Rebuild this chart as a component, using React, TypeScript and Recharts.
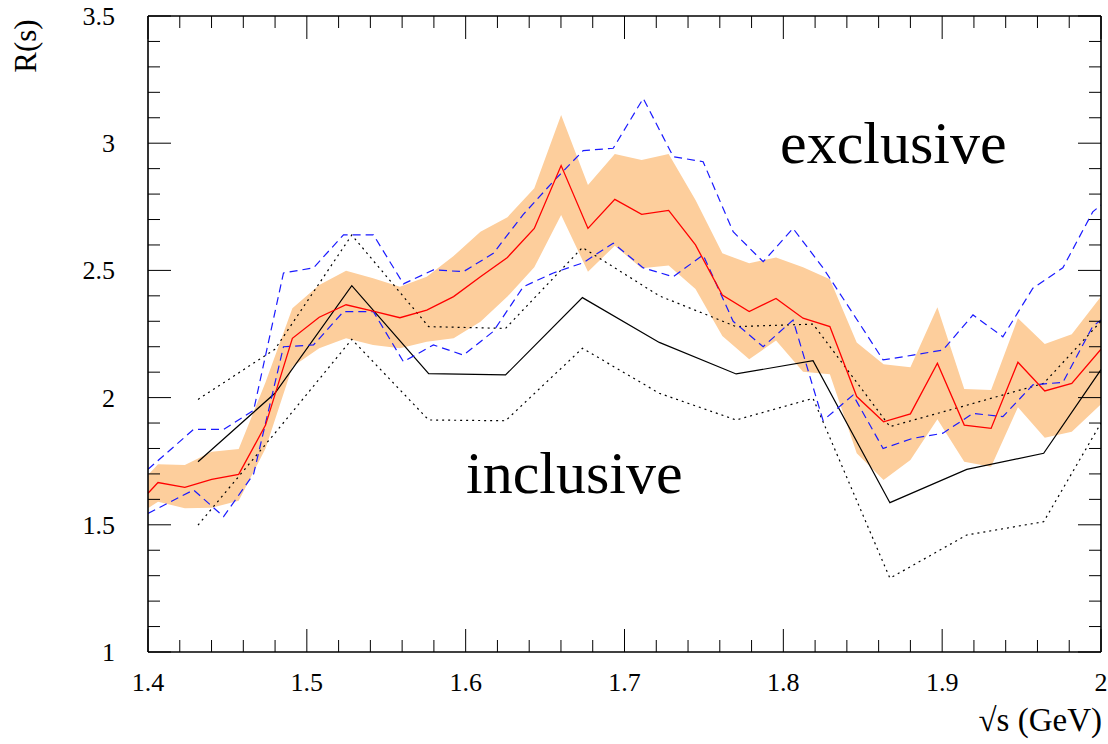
import React from 'react';
import { ComposedChart, Line, Area, XAxis, YAxis } from 'recharts';

// exclusive (red central line + orange band)
const exclX = [1.4, 1.4063, 1.4232, 1.4401, 1.4571, 1.474, 1.4909, 1.5078, 1.5247, 1.5417, 1.5586, 1.5755, 1.5924, 1.6093, 1.6263, 1.6432, 1.6601, 1.677, 1.6939, 1.7108, 1.7278, 1.7447, 1.7616, 1.7785, 1.7954, 1.8124, 1.8293, 1.8462, 1.8631, 1.88, 1.897, 1.9139, 1.9308, 1.9477, 1.9646, 1.9816, 2.0];
const exclC = [1.624, 1.666, 1.647, 1.679, 1.698, 1.892, 2.233, 2.316, 2.365, 2.34, 2.314, 2.344, 2.397, 2.475, 2.551, 2.665, 2.912, 2.665, 2.779, 2.72, 2.736, 2.6, 2.403, 2.338, 2.39, 2.312, 2.279, 2.004, 1.905, 1.936, 2.135, 1.892, 1.879, 2.139, 2.026, 2.056, 2.19];
const exclHi = [1.696, 1.738, 1.735, 1.787, 1.798, 2.06, 2.351, 2.443, 2.499, 2.469, 2.436, 2.475, 2.557, 2.652, 2.709, 2.823, 3.111, 2.836, 2.958, 2.934, 2.958, 2.777, 2.567, 2.528, 2.551, 2.512, 2.465, 2.217, 2.131, 2.119, 2.355, 2.034, 2.03, 2.312, 2.211, 2.249, 2.397];
const exclLo = [1.565, 1.591, 1.565, 1.567, 1.595, 1.8, 2.121, 2.194, 2.233, 2.207, 2.194, 2.22, 2.233, 2.298, 2.397, 2.512, 2.718, 2.495, 2.597, 2.508, 2.519, 2.427, 2.242, 2.151, 2.224, 2.102, 2.092, 1.781, 1.676, 1.755, 1.915, 1.748, 1.728, 1.962, 1.842, 1.866, 1.974];

// blue dashed envelope
const blueX = [1.4, 1.4287, 1.4476, 1.4665, 1.4853, 1.5042, 1.5231, 1.5419, 1.5608, 1.5797, 1.5986, 1.6174, 1.6363, 1.6552, 1.674, 1.6929, 1.7118, 1.7307, 1.7495, 1.7684, 1.7873, 1.8061, 1.825, 1.8439, 1.8628, 1.8816, 1.9005, 1.9194, 1.9382, 1.9571, 1.976, 1.9948, 2.0];
const blueHi = [1.718, 1.875, 1.875, 1.95, 2.49, 2.51, 2.64, 2.64, 2.447, 2.502, 2.495, 2.567, 2.72, 2.85, 2.971, 2.98, 3.176, 2.947, 2.927, 2.652, 2.534, 2.665, 2.51, 2.33, 2.148, 2.167, 2.187, 2.325, 2.239, 2.43, 2.51, 2.73, 2.757];
const blueLo = [1.545, 1.637, 1.532, 1.7, 2.2, 2.207, 2.338, 2.338, 2.141, 2.207, 2.167, 2.26, 2.436, 2.49, 2.53, 2.607, 2.51, 2.475, 2.561, 2.3, 2.2, 2.305, 1.91, 2.01, 1.8, 1.84, 1.86, 1.938, 1.925, 2.05, 2.06, 2.28, 2.305];

// inclusive (black solid + dotted)
const inclX = [1.4315, 1.4799, 1.5283, 1.5767, 1.6251, 1.6735, 1.7219, 1.7703, 1.8187, 1.8671, 1.9155, 1.9639, 2.0];
const inclC = [1.748, 2.017, 2.44, 2.094, 2.089, 2.393, 2.217, 2.093, 2.145, 1.587, 1.718, 1.781, 2.11];
const inclHi = [1.993, 2.19, 2.639, 2.279, 2.272, 2.59, 2.4, 2.279, 2.289, 1.886, 1.97, 2.056, 2.3];
const inclLo = [1.499, 1.86, 2.229, 1.912, 1.909, 2.194, 2.017, 1.912, 1.997, 1.29, 1.46, 1.512, 1.9];

const xMajorTicks = [1.4, 1.5, 1.6, 1.7, 1.8, 1.9, 2.0];
const xTickLabels = ['1.4', '1.5', '1.6', '1.7', '1.8', '1.9', '2'];
const yMajorTicks = [1, 1.5, 2, 2.5, 3, 3.5];
const yTickLabels = ['1', '1.5', '2', '2.5', '3', '3.5'];

const exclData = exclX.map((x, i) => ({ x, c: exclC[i], band: [exclLo[i], exclHi[i]] }));
const blueData = blueX.map((x, i) => ({ x, hi: blueHi[i], lo: blueLo[i] }));
const inclData = inclX.map((x, i) => ({ x, c: inclC[i], hi: inclHi[i], lo: inclLo[i] }));

const xAllTicks: number[] = [];
for (let i = 0; i <= 30; i++) xAllTicks.push(Math.round((1.4 + 0.02 * i) * 1000) / 1000);
const yAllTicks: number[] = [];
for (let i = 0; i <= 25; i++) yAllTicks.push(Math.round((1 + 0.1 * i) * 1000) / 1000);

const FONT = "'Liberation Serif', 'DejaVu Serif', serif";
const majorIdx = (arr: number[], v: number) => arr.findIndex((m) => Math.abs(m - v) < 1e-6);

const BottomTick = (p: any) => {
  const { x, y, payload } = p;
  const k = majorIdx(xMajorTicks, payload.value);
  return (
    <g>
      <line x1={x} y1={y} x2={x} y2={y - (k >= 0 ? 23 : 12)} stroke="#000" strokeWidth={1} />
      {k >= 0 && (
        <text x={x} y={y + 39} textAnchor="middle" fontFamily={FONT} fontSize={26} fill="#000">
          {xTickLabels[k]}
        </text>
      )}
    </g>
  );
};
const TopTick = (p: any) => {
  const { x, y, payload } = p;
  const k = majorIdx(xMajorTicks, payload.value);
  return <line x1={x} y1={y} x2={x} y2={y + (k >= 0 ? 23 : 12)} stroke="#000" strokeWidth={1} />;
};
const LeftTick = (p: any) => {
  const { x, y, payload } = p;
  const k = majorIdx(yMajorTicks, payload.value);
  return (
    <g>
      <line x1={x} y1={y} x2={x + (k >= 0 ? 23 : 12)} y2={y} stroke="#000" strokeWidth={1} />
      {k >= 0 && (
        <text x={x - 33} y={y + 9} textAnchor="end" fontFamily={FONT} fontSize={26} fill="#000">
          {yTickLabels[k]}
        </text>
      )}
    </g>
  );
};
const RightTick = (p: any) => {
  const { x, y, payload } = p;
  const k = majorIdx(yMajorTicks, payload.value);
  return <line x1={x} y1={y} x2={x - (k >= 0 ? 23 : 12)} y2={y} stroke="#000" strokeWidth={1} />;
};

const axisLine = { stroke: '#000', strokeWidth: 1.6 };

export default function App() {
  return (
    <div style={{ position: 'absolute', left: 0, top: 0, width: 1108, height: 744, background: '#fff' }}>
      <ComposedChart width={1108} height={744} margin={{ top: 15, right: 6, bottom: 91, left: 147 }}>
        <XAxis xAxisId="b" type="number" dataKey="x" domain={[1.4, 2.0]} allowDataOverflow ticks={xAllTicks} interval={0}
          tick={BottomTick} tickLine={false} tickSize={0} tickMargin={0} height={1} axisLine={axisLine} orientation="bottom" />
        <XAxis xAxisId="t" type="number" dataKey="x" domain={[1.4, 2.0]} allowDataOverflow ticks={xAllTicks} interval={0}
          tick={TopTick} tickLine={false} tickSize={0} tickMargin={0} height={1} axisLine={axisLine} orientation="top" />
        <YAxis yAxisId="l" type="number" domain={[1, 3.5]} allowDataOverflow ticks={yAllTicks} interval={0}
          tick={LeftTick} tickLine={false} tickSize={0} tickMargin={0} width={1} axisLine={axisLine} orientation="left" />
        <YAxis yAxisId="r" type="number" domain={[1, 3.5]} allowDataOverflow ticks={yAllTicks} interval={0}
          tick={RightTick} tickLine={false} tickSize={0} tickMargin={0} width={1} axisLine={axisLine} orientation="right" />
        <Area data={exclData} dataKey="band" xAxisId="b" yAxisId="l" type="linear" stroke="none" fill="#fdce9c" fillOpacity={1} isAnimationActive={false} />
        <Line data={inclData} dataKey="hi" xAxisId="b" yAxisId="l" type="linear" stroke="#000" strokeWidth={1.2} strokeDasharray="2 4" dot={false} isAnimationActive={false} />
        <Line data={inclData} dataKey="lo" xAxisId="b" yAxisId="l" type="linear" stroke="#000" strokeWidth={1.2} strokeDasharray="2 4" dot={false} isAnimationActive={false} />
        <Line data={inclData} dataKey="c" xAxisId="b" yAxisId="l" type="linear" stroke="#000" strokeWidth={1.2} dot={false} isAnimationActive={false} />
        <Line data={blueData} dataKey="hi" xAxisId="b" yAxisId="l" type="linear" stroke="#1a1aff" strokeWidth={1.2} strokeDasharray="8 5" dot={false} isAnimationActive={false} />
        <Line data={blueData} dataKey="lo" xAxisId="b" yAxisId="l" type="linear" stroke="#1a1aff" strokeWidth={1.2} strokeDasharray="8 5" dot={false} isAnimationActive={false} />
        <Line data={exclData} dataKey="c" xAxisId="b" yAxisId="l" type="linear" stroke="#ff0000" strokeWidth={1.3} dot={false} isAnimationActive={false} />
      </ComposedChart>
      <svg width={1108} height={744} style={{ position: 'absolute', left: 0, top: 0, pointerEvents: 'none' }}>
        <text x={780} y={163} fontFamily={FONT} fontSize={60} fill="#000">exclusive</text>
        <text x={466} y={493} fontFamily={FONT} fontSize={60} fill="#000">inclusive</text>
        <text x={36} y={46} transform="rotate(-90 36 46)" textAnchor="middle" fontFamily={FONT} fontSize={31} fill="#000">R(s)</text>
        <text x={1102} y={731} textAnchor="end" fontFamily={FONT} fontSize={33} fill="#000">√s (GeV)</text>
      </svg>
    </div>
  );
}
